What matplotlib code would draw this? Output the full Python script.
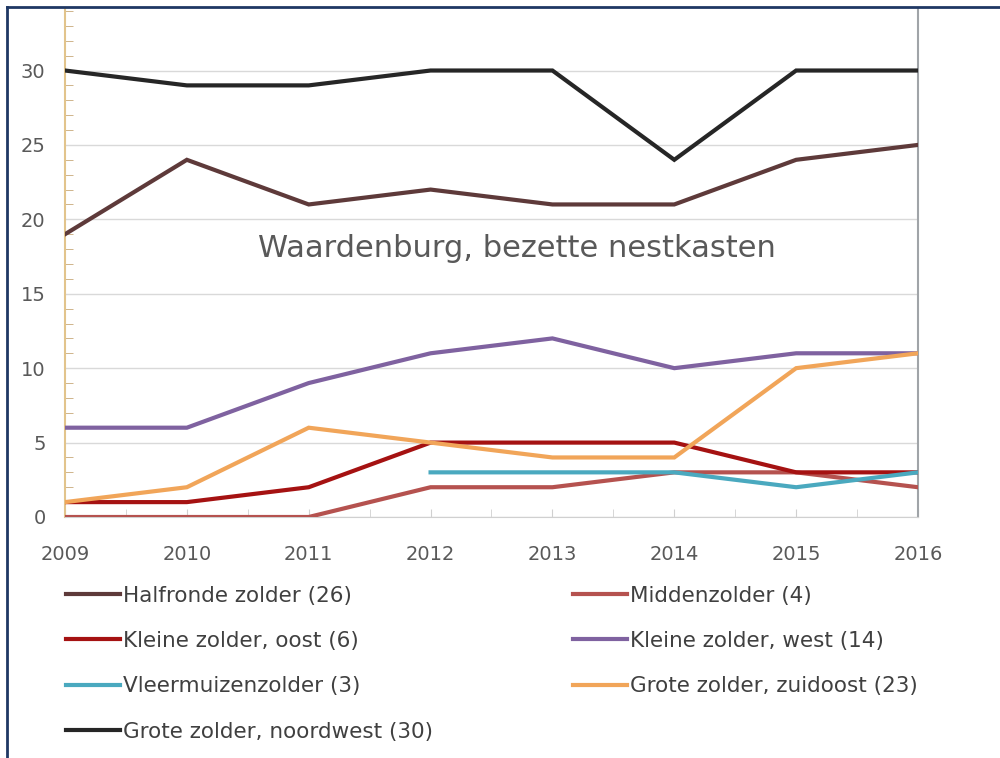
import matplotlib.pyplot as plt
from matplotlib.lines import Line2D
from matplotlib.ticker import MultipleLocator
import numpy as np

# Data
years = [2009, 2010, 2011, 2012, 2013, 2014, 2015, 2016]
halfronde = [19, 24, 21, 22, 21, 21, 24, 25]
midden = [0, 0, 0, 2, 2, 3, 3, 2]
kleine_oost = [1, 1, 2, 5, 5, 5, 3, 3]
kleine_west = [6, 6, 9, 11, 12, 10, 11, 11]
vleermuizen = [np.nan, np.nan, np.nan, 3, 3, 3, 2, 3]
grote_zo = [1, 2, 6, 5, 4, 4, 10, 11]
grote_nw = [30, 29, 29, 30, 30, 24, 30, 30]

names = ['Halfronde zolder (26)', 'Middenzolder (4)', 'Kleine zolder, oost (6)',
         'Kleine zolder, west (14)', 'Vleermuizenzolder (3)',
         'Grote zolder, zuidoost (23)', 'Grote zolder, noordwest (30)']
series = [halfronde, midden, kleine_oost, kleine_west, vleermuizen, grote_zo, grote_nw]
colors = ['#5e3a3a', '#b5524f', '#a51212', '#7f62a0', '#4aa9bf', '#f1a559', '#262626']

fig = plt.figure(figsize=(10, 7.58), dpi=100)
ax = fig.add_axes([0.065, 1 - 517 / 758, 0.853, (517 - 8) / 758])

lines = []
for vals, name, c in zip(series, names, colors):
    ln, = ax.plot(years, vals, color=c, lw=3, label=name, solid_joinstyle='miter', zorder=3)
    lines.append(ln)

ax.set_xlim(2009, 2016)
ax.set_ylim(0, 34.2)
ax.set_yticks([0, 5, 10, 15, 20, 25, 30])
ax.yaxis.set_minor_locator(MultipleLocator(1))
ax.set_xticks(years)
ax.xaxis.set_minor_locator(MultipleLocator(0.5))
ax.grid(axis='y', color='#d9d9d9', lw=1, zorder=0)

ax.spines['top'].set_visible(False)
ax.spines['left'].set_color('#e2c48c')
ax.spines['left'].set_linewidth(1.5)
ax.spines['right'].set_color('#a0a4a8')
ax.spines['right'].set_linewidth(1.5)
ax.spines['bottom'].set_color('#d0d0d0')

ax.tick_params(axis='y', which='both', direction='in', colors='#c8a878', length=6,
               labelcolor='#595959', labelsize=14, pad=14)
ax.tick_params(axis='x', which='both', direction='in', colors='#d0d0d0', length=6,
               labelcolor='#595959', labelsize=14, pad=20)
ax.tick_params(axis='y', which='major', length=0)

ax.text(0.53, 0.528, 'Waardenburg, bezette nestkasten', transform=ax.transAxes,
        ha='center', va='center', fontsize=22, color='#595959')

order = [0, 2, 4, 6, 1, 3, 5]
fig.legend([lines[i] for i in order], [names[i] for i in order], ncol=2,
           loc='upper left', bbox_to_anchor=(0.047, 0.253), frameon=False,
           fontsize=15.5, labelcolor='#404040', handlelength=2.5, handletextpad=0.15,
           columnspacing=6.5, labelspacing=1.18)

# screenshot border (top and left)
fig.add_artist(Line2D([0.007, 0.007], [0, 1 - 7 / 758], transform=fig.transFigure,
                      color='#1f3864', lw=2))
fig.add_artist(Line2D([0.007, 1], [1 - 7 / 758, 1 - 7 / 758], transform=fig.transFigure,
                      color='#1f3864', lw=2))

fig.savefig('out.png', dpi=100)
